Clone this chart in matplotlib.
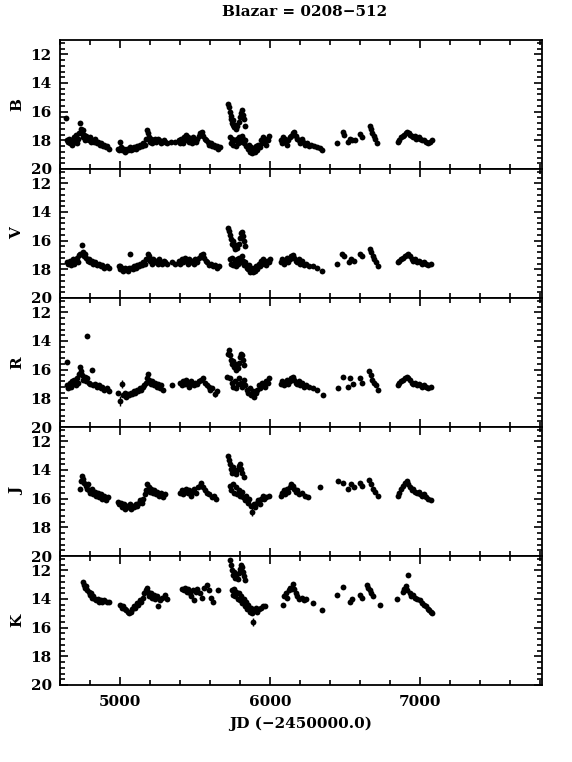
import matplotlib
matplotlib.use("Agg")
import matplotlib.pyplot as plt
from matplotlib.ticker import MultipleLocator

# light curve points (JD-2450000, magnitude)
b_jd = [4637, 4648, 4655, 4660, 4668, 4675, 4682, 4690, 4697, 4705, 4712, 4718, 4725, 4733, 4740, 4745,
        4750, 4755, 4762, 4768, 4775, 4782, 4790, 4798, 4805, 4815, 4825, 4835, 4845, 4855, 4865, 4875,
        4885, 4895, 4905, 4915, 4925,
        4985, 4995, 5005, 5015, 5025, 5035, 5045, 5055, 5065, 5075, 5085, 5095, 5105, 5115, 5125, 5135,
        5145, 5155, 5165, 5175, 5182, 5188, 5195, 5200, 5208, 5215, 5222, 5230, 5240, 5250, 5260, 5270,
        5280, 5290, 5300, 5310, 5340, 5365,
        5390, 5398, 5405, 5412, 5420, 5428, 5435, 5442, 5450, 5458, 5465, 5472, 5480, 5488, 5495, 5505,
        5515, 5525, 5535, 5545, 5555, 5565, 5575, 5585, 5595, 5605, 5615, 5625, 5635, 5645, 5655, 5665,
        5722, 5728, 5733, 5738, 5742, 5746, 5750, 5755, 5760, 5765, 5772, 5780, 5790, 5800, 5806, 5812,
        5818, 5825, 5830,
        5730, 5740, 5748, 5755, 5762, 5770, 5778, 5786, 5794, 5802, 5810, 5818, 5826, 5834, 5842, 5850,
        5858, 5866, 5874, 5882, 5890, 5898, 5906, 5914, 5922, 5930, 5938, 5946, 5954, 5962, 5970, 5978,
        5988, 5996,
        6070, 6078, 6086, 6094, 6102, 6110, 6120, 6130, 6140, 6150, 6160, 6170, 6180, 6190, 6200, 6210,
        6220, 6230, 6245, 6260, 6275, 6290, 6310, 6330, 6345,
        6447, 6484, 6490, 6522, 6532, 6545, 6565, 6600, 6612, 6665, 6672, 6682, 6695, 6703, 6713,
        6850, 6862, 6875, 6885, 6895, 6905, 6915, 6925, 6935, 6945, 6955, 6965, 6975, 6990, 7000, 7012,
        7025, 7038, 7050, 7065, 7078]
b_mag = [16.45, 18.0, 18.1, 17.9, 18.2, 18.0, 18.3, 17.8, 18.1, 17.6, 18.2, 17.9, 17.5, 16.8, 17.2, 17.5,
         17.8, 17.3, 17.6, 18.0, 17.7, 17.9, 18.0, 17.8, 18.1, 18.0, 18.1, 17.9, 18.2, 18.1, 18.3, 18.2,
         18.4, 18.3, 18.5, 18.4, 18.6,
         18.6, 18.7, 18.5, 18.7, 18.6, 18.8, 18.6, 18.7, 18.5, 18.7, 18.6, 18.5, 18.6, 18.4, 18.5, 18.3,
         18.4, 18.2, 18.3, 17.9, 17.3, 17.5, 17.8, 18.1, 17.9, 18.2, 18.0, 17.9, 18.1, 17.9, 18.0, 18.2,
         18.1, 18.0, 18.1, 18.2, 18.1, 18.1,
         18.0, 18.2, 17.9, 18.1, 18.2, 17.8, 18.0, 17.6, 17.8, 18.1, 17.9, 18.0, 18.2, 17.8, 18.0, 18.1,
         17.9, 17.7, 17.5, 17.4, 17.7, 17.9, 18.0, 18.1, 18.3, 18.2, 18.4, 18.3, 18.5, 18.4, 18.6, 18.5,
         15.5, 15.7, 16.0, 16.3, 16.5, 16.8, 16.6, 16.9, 17.1, 16.9, 17.2, 17.0, 16.7, 16.4, 16.1, 15.9,
         16.2, 16.5, 17.0,
         17.8, 18.2, 17.9, 18.3, 18.0, 18.4, 17.9, 18.2, 17.8, 18.1, 17.7, 17.9, 18.2, 18.0, 18.4, 18.6,
         18.3, 18.8, 18.5, 18.9, 18.6, 18.8, 18.4, 18.7, 18.3, 18.5, 18.0, 18.2, 17.8, 18.1, 18.3, 17.9,
         18.0, 17.7,
         18.0, 18.2, 17.8, 18.1, 17.9, 18.3, 18.0, 17.8, 17.7, 17.5, 17.4, 17.7, 17.9, 18.0, 18.2, 17.9,
         18.1, 18.3, 18.2, 18.4, 18.3, 18.4, 18.5, 18.55, 18.65,
         18.2, 17.45, 17.6, 18.1, 17.9, 18.0, 17.95, 17.55, 17.8, 17.0, 17.2, 17.5, 17.7, 17.9, 18.2,
         18.1, 18.0, 17.8, 17.7, 17.6, 17.5, 17.4, 17.5, 17.6, 17.7, 17.8, 17.7, 17.9, 17.8, 17.9, 18.0,
         18.0, 18.1, 18.2, 18.1, 18.0]

v_jd = [4648, 4656, 4664, 4672, 4680, 4688, 4696, 4704, 4712, 4720, 4728, 4736, 4745, 4752, 4760, 4768,
        4776, 4784, 4792, 4800, 4810, 4820, 4832, 4845, 4858, 4870, 4882, 4895, 4910, 4925,
        4990, 5000, 5010, 5020, 5030, 5040, 5050, 5060, 5068, 5075, 5085, 5095, 5105, 5115, 5125, 5135,
        5145, 5155, 5165, 5175, 5185, 5192, 5200, 5210, 5220, 5230, 5240, 5250, 5260, 5270, 5280, 5290,
        5300, 5312, 5345, 5368,
        5390, 5400, 5410, 5420, 5430, 5440, 5450, 5460, 5470, 5480, 5490, 5500, 5512, 5525, 5538, 5550,
        5560, 5570, 5580, 5592, 5605, 5618, 5632, 5645, 5658,
        5722, 5728, 5734, 5740, 5746, 5752, 5758, 5765, 5772, 5780, 5790, 5800, 5806, 5812, 5818, 5826,
        5832,
        5730, 5740, 5748, 5756, 5764, 5772, 5780, 5788, 5796, 5804, 5812, 5820, 5828, 5836, 5844, 5852,
        5860, 5868, 5876, 5884, 5892, 5900, 5908, 5916, 5924, 5932, 5940, 5948, 5956, 5964, 5972, 5980,
        5990, 5998,
        6070, 6080, 6090, 6100, 6110, 6120, 6130, 6140, 6150, 6160, 6170, 6180, 6190, 6200, 6212, 6225,
        6240, 6260, 6285, 6310, 6345,
        6447, 6482, 6490, 6525, 6540, 6560, 6598, 6610, 6665, 6672, 6684, 6696, 6706, 6718,
        6850, 6862, 6875, 6888, 6898, 6910, 6920, 6932, 6944, 6955, 6966, 6978, 6990, 7002, 7015, 7028,
        7040, 7055, 7070]
v_mag = [17.5, 17.6, 17.4, 17.7, 17.5, 17.3, 17.6, 17.4, 17.2, 17.5, 17.0, 16.9, 16.3, 16.8, 17.1, 16.9,
         17.2, 17.4, 17.3, 17.5, 17.4, 17.6, 17.5, 17.7, 17.6, 17.8, 17.7, 17.9, 17.8, 17.9,
         17.8, 18.0, 17.9, 18.1, 17.9, 18.0, 18.1, 17.9, 16.9, 17.9, 18.0, 17.8, 17.9, 17.7, 17.8, 17.6,
         17.7, 17.5, 17.6, 17.3, 16.9, 17.1, 17.4, 17.6, 17.3, 17.5, 17.4, 17.6, 17.3, 17.5, 17.6, 17.4,
         17.5, 17.6, 17.5, 17.6,
         17.4, 17.6, 17.3, 17.5, 17.2, 17.4, 17.6, 17.3, 17.5, 17.4, 17.6, 17.3, 17.5, 17.2, 17.0, 16.9,
         17.2, 17.4, 17.5, 17.7, 17.6, 17.8, 17.7, 17.9, 17.8,
         15.1, 15.3, 15.6, 15.9, 16.2, 16.0, 16.4, 16.6, 16.3, 16.5, 16.2, 15.8, 15.5, 15.4, 15.7, 16.0,
         16.4,
         17.3, 17.6, 17.2, 17.7, 17.4, 17.8, 17.3, 17.6, 17.2, 17.5, 17.1, 17.4, 17.7, 17.5, 17.9, 18.0,
         17.7, 18.2, 17.9, 18.2, 17.9, 18.1, 17.8, 18.0, 17.6, 17.8, 17.4, 17.6, 17.3, 17.5, 17.7, 17.4,
         17.5, 17.3,
         17.5, 17.3, 17.6, 17.4, 17.2, 17.5, 17.3, 17.1, 17.0, 17.2, 17.4, 17.5, 17.3, 17.6, 17.4, 17.7,
         17.6, 17.8, 17.8, 17.9, 18.1,
         17.6, 16.9, 17.1, 17.5, 17.3, 17.4, 16.9, 17.1, 16.6, 16.8, 17.1, 17.3, 17.5, 17.8,
         17.5, 17.4, 17.3, 17.2, 17.1, 17.0, 16.9, 17.1, 17.3, 17.4, 17.3, 17.5, 17.4, 17.5, 17.6, 17.5,
         17.6, 17.7, 17.6]

r_jd = [4644, 4778,
        4648, 4656, 4664, 4672, 4680, 4688, 4696, 4704, 4712, 4720, 4728, 4733, 4740, 4748, 4756, 4764,
        4772, 4780, 4790, 4800, 4811, 4820, 4832, 4845, 4858, 4870, 4882, 4895, 4910, 4925,
        4985, 5020, 5030, 5040, 5050, 5060, 5070, 5080, 5090, 5100, 5110, 5120, 5130, 5140, 5150, 5160,
        5170, 5178, 5187, 5195, 5205, 5215, 5225, 5235, 5245, 5255, 5265, 5275, 5347,
        5400, 5410, 5420, 5430, 5440, 5450, 5460, 5470, 5480, 5490, 5500, 5512, 5525, 5540, 5553, 5565,
        5578, 5590, 5602, 5615, 5645,
        5713, 5722, 5728, 5734, 5740, 5746, 5752, 5758, 5764, 5770, 5778, 5786, 5794, 5800, 5806, 5812,
        5820, 5828,
        5735, 5745, 5755, 5765, 5775, 5785, 5795, 5805, 5815, 5825, 5835, 5845, 5855, 5865, 5875, 5885,
        5895, 5905, 5915, 5925, 5935, 5945, 5955, 5965, 5975, 5985, 5995,
        6070, 6080, 6090, 6100, 6110, 6120, 6130, 6140, 6150, 6160, 6170, 6180, 6190, 6200, 6212, 6225,
        6240, 6260, 6285, 6310, 6353,
        6453, 6487, 6520, 6533, 6550, 6600, 6612, 6660, 6670, 6682, 6694, 6706, 6718,
        6850, 6862, 6875, 6888, 6898, 6910, 6920, 6932, 6944, 6955, 6966, 6978, 6990, 7002, 7015, 7028,
        7040, 7055, 7070]
r_mag = [15.45, 13.65,
         17.1, 17.3, 16.9, 17.2, 16.8, 17.0, 16.7, 17.1, 16.6, 16.9, 16.3, 15.8, 16.1, 16.4, 16.7, 16.5,
         16.8, 16.6, 16.9, 17.0, 16.0, 17.1, 17.0, 17.2, 17.1, 17.3, 17.2, 17.4, 17.3, 17.5,
         17.6, 17.8, 17.6, 17.9, 17.7, 17.8, 17.6, 17.7, 17.5, 17.6, 17.4, 17.5, 17.3, 17.4, 17.2, 17.1,
         16.9, 16.6, 16.3, 16.7, 17.0, 16.8, 17.1, 16.9, 17.2, 17.0, 17.3, 17.1, 17.07,
         16.9, 17.1, 16.8, 17.0, 16.7, 16.9, 17.2, 16.8, 17.0, 17.1, 16.9, 17.0, 16.8, 16.7, 16.6, 16.9,
         17.1, 17.2, 17.4, 17.3, 17.5,
         16.5, 14.9, 14.6, 15.0, 15.3, 15.6, 15.4, 15.8, 15.6, 16.0, 15.7, 15.9, 15.5, 15.1, 14.9, 15.0,
         15.3, 15.7,
         16.6, 16.9, 17.2, 16.8, 17.3, 17.0, 16.6, 16.9, 17.2, 16.7, 17.1, 17.4, 17.6, 17.3, 17.8, 17.5,
         17.9, 17.6, 17.4, 17.1, 17.3, 16.9, 17.1, 17.2, 16.8, 16.9, 16.6,
         17.0, 16.8, 17.1, 16.9, 16.7, 17.0, 16.8, 16.6, 16.5, 16.7, 16.9, 17.0, 16.8, 17.1, 16.9, 17.2,
         17.1, 17.2, 17.3, 17.4, 17.8,
         17.3, 16.5, 17.2, 16.6, 17.0, 16.6, 16.9, 16.1, 16.4, 16.7, 16.9, 17.1, 17.4,
         17.1, 16.9, 16.8, 16.7, 16.6, 16.5, 16.6, 16.7, 16.9, 17.0, 16.9, 17.1, 17.0, 17.1, 17.2, 17.1,
         17.2, 17.3, 17.2]

j_jd = [4730, 4740, 4748, 4755, 4762, 4770, 4778, 4786, 4794, 4802, 4810, 4820, 4830, 4840, 4850, 4860,
        4870, 4880, 4892, 4905, 4920,
        4985, 4995, 5005, 5015, 5025, 5035, 5045, 5055, 5065, 5075, 5085, 5095, 5105, 5115, 5125, 5135,
        5145, 5155, 5165, 5175, 5183, 5190, 5198, 5208, 5218, 5228, 5238, 5248, 5260, 5272, 5285, 5300,
        5400, 5410, 5420, 5430, 5440, 5450, 5460, 5470, 5480, 5492, 5505, 5518, 5530, 5542, 5554, 5566,
        5580, 5595, 5610, 5625, 5640,
        5722, 5728, 5734, 5740, 5746, 5752, 5760, 5770, 5780, 5790, 5800, 5808, 5816, 5824,
        5730, 5740, 5750, 5760, 5770, 5780, 5790, 5800, 5810, 5820, 5830, 5840, 5850, 5860, 5870, 5890,
        5900, 5910, 5920, 5930, 5940, 5950, 5960, 5975, 5990,
        6070, 6080, 6090, 6100, 6110, 6120, 6130, 6140, 6150, 6160, 6170, 6180, 6195, 6210, 6230, 6250,
        6330,
        6450, 6485, 6520, 6540, 6560, 6600, 6615, 6660, 6672, 6684, 6700, 6718,
        6850, 6862, 6875, 6888, 6898, 6910, 6920, 6932, 6944, 6955, 6966, 6978, 6990, 7002, 7015, 7028,
        7040, 7055, 7070]
j_mag = [15.3, 14.8, 14.4, 14.6, 14.9, 15.1, 15.3, 15.0, 15.4, 15.6, 15.3, 15.7, 15.5, 15.8, 15.6, 15.9,
         15.7, 16.0, 15.8, 16.1, 15.9,
         16.2, 16.4, 16.3, 16.6, 16.4, 16.7, 16.5, 16.6, 16.4, 16.7, 16.5, 16.6, 16.4, 16.5, 16.3, 16.1,
         16.3, 16.0, 15.7, 15.4, 15.0, 15.2, 15.5, 15.3, 15.6, 15.4, 15.7, 15.5, 15.8, 15.6, 15.9, 15.7,
         15.6, 15.4, 15.7, 15.5, 15.3, 15.6, 15.4, 15.8, 15.5, 15.3, 15.6, 15.2, 15.1, 14.9, 15.2, 15.4,
         15.6, 15.7, 15.9, 15.8, 16.0,
         13.0, 13.3, 13.6, 13.9, 14.2, 13.8, 14.1, 14.3, 14.0, 13.7, 13.6, 13.9, 14.2, 14.5,
         15.1, 15.4, 15.0, 15.6, 15.2, 15.7, 15.4, 15.8, 15.5, 15.9, 16.1, 15.8, 16.3, 16.0, 16.5, 16.4,
         16.6, 16.3, 16.1, 16.4, 16.0, 15.8, 16.0, 15.9, 15.8,
         15.8, 15.6, 15.4, 15.7, 15.3, 15.5, 15.2, 15.0, 15.1, 15.3, 15.5, 15.4, 15.7, 15.6, 15.8, 15.9,
         15.2,
         14.8, 14.9, 15.3, 15.0, 15.2, 14.9, 15.1, 14.7, 15.0, 15.3, 15.5, 15.8,
         15.8, 15.6, 15.3, 15.1, 14.9, 14.8, 15.0, 15.2, 15.4, 15.3, 15.5, 15.6, 15.5, 15.7, 15.8, 15.7,
         15.9, 16.0, 16.1]

k_jd = [4756, 4762, 4768, 4775, 4782, 4790, 4798, 4806, 4814, 4822, 4832, 4842, 4852, 4862, 4872, 4882,
        4895, 4910, 4925,
        5000, 5010, 5020, 5030, 5040, 5050, 5060, 5070, 5080, 5090, 5100, 5110, 5120, 5130, 5140, 5150,
        5160, 5170, 5178, 5186, 5195, 5205, 5215, 5225, 5235, 5245, 5265, 5280, 5300, 5312,
        5413, 5425, 5435, 5445, 5455, 5465, 5475, 5485, 5495, 5505, 5515, 5530, 5545, 5560, 5578, 5590,
        5605, 5622, 5650,
        5733, 5740, 5746, 5752, 5760, 5768, 5776, 5784, 5792, 5800, 5806, 5812, 5820, 5828, 5836,
        5745, 5752, 5760, 5768, 5776, 5784, 5792, 5800, 5808, 5816, 5824, 5832, 5840, 5848, 5856, 5864,
        5872, 5880, 5895, 5905, 5915, 5925, 5940, 5955, 5967,
        6087, 6095, 6105, 6115, 6125, 6135, 6145, 6153, 6162, 6172, 6182, 6195, 6210, 6225, 6240, 6287,
        6447, 6487, 6533, 6545, 6600, 6615, 6647, 6655, 6665, 6675, 6685, 6733,
        6847, 6887, 6895, 6905, 6915, 6930, 6942, 6955, 6968, 6980, 7000, 7012, 7025, 7038, 7050, 7062,
        7075, 7080]
k_mag = [12.8, 13.0, 13.2, 13.1, 13.4, 13.5, 13.7, 13.6, 13.9, 13.8, 14.0, 14.1, 14.0, 14.2, 14.1, 14.2,
         14.1, 14.2, 14.2,
         14.4, 14.6, 14.5, 14.7, 14.8, 14.9, 15.0, 14.9, 14.7, 14.5, 14.6, 14.3, 14.4, 14.1, 14.2, 13.9,
         13.6, 13.4, 13.2, 13.5, 13.8, 13.6, 13.9, 13.7, 14.0, 13.8, 14.1, 13.9, 13.7, 14.0,
         13.3, 13.4, 13.2, 13.5, 13.3, 13.6, 13.8, 13.4, 14.1, 13.5, 13.3, 13.6, 13.9, 13.2, 13.0, 13.4,
         13.9, 14.2, 13.4,
         11.26, 11.6, 12.0, 12.3, 12.1, 12.5, 12.3, 12.6, 12.2, 11.9, 11.6, 11.8, 12.1, 12.4, 12.7,
         13.4, 13.7, 13.3, 13.8, 13.5, 14.0, 13.6, 14.1, 13.8, 14.3, 14.0, 14.5, 14.2, 14.7, 14.4, 14.9,
         14.6, 15.0, 14.8, 14.6, 14.9, 14.7, 14.6, 14.5, 14.5,
         14.4, 13.8, 13.6, 13.9, 13.4, 13.2, 13.3, 12.96, 13.3, 13.6, 13.8, 14.0, 13.9, 14.1, 14.0, 14.3,
         13.7, 13.15, 14.2, 14.0, 13.7, 13.9, 13.0, 13.2, 13.4, 13.6, 13.8, 14.4,
         14.0, 13.5, 13.3, 13.1, 13.4, 13.6, 13.8, 13.7, 13.9, 14.0, 14.1, 14.3, 14.4, 14.5, 14.7, 14.8,
         14.9, 14.95]

# points with visibly larger error bars: (JD, mag, err)
b_big = [(5000, 18.1, 0.15)]
v_big = [(5000, 17.8, 0.15)]
r_big = [(4998, 18.2, 0.35), (5010, 17.0, 0.25), (5285, 17.4, 0.15), (5633, 17.7, 0.2)]
j_big = [(5880, 16.9, 0.3)]
k_big = [(5255, 14.5, 0.15), (5887, 15.6, 0.3), (6347, 14.75, 0.1), (6920, 12.35, 0.1)]

bands = ["B", "V", "R", "J", "K"]
jds = [b_jd, v_jd, r_jd, j_jd, k_jd]
mags = [b_mag, v_mag, r_mag, j_mag, k_mag]
bigs = [b_big, v_big, r_big, j_big, k_big]

font = {"family": "DejaVu Serif", "weight": "bold", "size": 11}

W, H = 572, 762
fig = plt.figure(figsize=(W / 100, H / 100), dpi=100)
left, right = 60, 542
top, ph = 40, 129

for i, band in enumerate(bands):
    y0 = top + ph * (i + 1)
    ax = fig.add_axes([left / W, 1 - y0 / H, (right - left) / W, ph / H])
    ax.errorbar(jds[i], mags[i], yerr=0.05, fmt="o", color="black", ms=4.2,
                elinewidth=1.0, capsize=2.3, capthick=1.0, mew=0)
    bj = [p[0] for p in bigs[i]]
    bm = [p[1] for p in bigs[i]]
    be = [p[2] for p in bigs[i]]
    ax.errorbar(bj, bm, yerr=be, fmt="o", color="black", ms=4.2,
                elinewidth=1.0, capsize=2.5, capthick=1.0, mew=0)
    ax.set_xlim(4600, 7813)
    ax.set_ylim(20, 11)
    ax.set_yticks([12, 14, 16, 18, 20])
    ax.yaxis.set_minor_locator(MultipleLocator(0.4))
    ax.xaxis.set_major_locator(MultipleLocator(1000))
    ax.xaxis.set_minor_locator(MultipleLocator(200))
    ax.tick_params(which="both", direction="in", top=True, right=True, width=1.2)
    ax.tick_params(which="major", length=6)
    ax.tick_params(which="minor", length=3.5)
    for s in ax.spines.values():
        s.set_linewidth(1.3)
    for lab in ax.get_yticklabels():
        lab.set_fontproperties(font)
    ax.tick_params(axis="y", pad=6)
    ax.set_ylabel(band, fontdict=font)
    ax.yaxis.set_label_coords(-0.074, 0.5)
    if i < 4:
        ax.tick_params(labelbottom=False)
    else:
        for lab in ax.get_xticklabels():
            lab.set_fontproperties(font)
        ax.tick_params(axis="x", pad=7)
        ax.set_xlabel("JD (\u22122450000.0)", fontdict=font, labelpad=6)

fig.text(305 / W, 1 - 12 / H, "Blazar = 0208\u2212512", ha="center", va="center", fontdict=font)

fig.savefig("out.png", dpi=100)
